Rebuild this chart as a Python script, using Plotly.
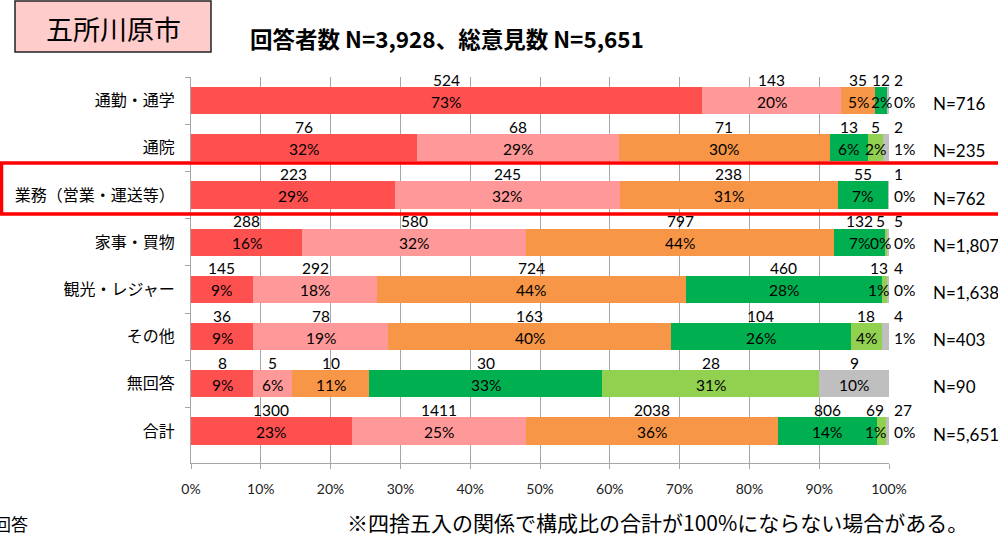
import plotly.graph_objects as go

# ---------------- data ----------------
categories = ["通勤・通学", "通院", "業務（営業・運送等）", "家事・買物",
              "観光・レジャー", "その他", "無回答", "合計"]
series1 = [524, 76, 223, 288, 145, 36, 8, 1300]
series2 = [143, 68, 245, 580, 292, 78, 5, 1411]
series3 = [35, 71, 238, 797, 724, 163, 10, 2038]
series4 = [12, 13, 55, 132, 460, 104, 30, 806]
series5 = [0, 5, 0, 5, 13, 18, 28, 69]
series6 = [2, 2, 1, 5, 4, 4, 9, 27]
n_labels = ["N=716", "N=235", "N=762", "N=1,807", "N=1,638", "N=403", "N=90", "N=5,651"]
x_tick_values = [0, 10, 20, 30, 40, 50, 60, 70, 80, 90, 100]
x_tick_labels = ["0%", "10%", "20%", "30%", "40%", "50%", "60%", "70%", "80%", "90%", "100%"]

series = [series1, series2, series3, series4, series5, series6]
colors = ["#FF5050", "#FF9999", "#F79646", "#00B050", "#92D050", "#BFBFBF"]

# ---------------- layout geometry ----------------
W, H = 998, 540
L, R, T, B = 191, 109, 77, 77
PW, PH = W - L - R, H - T - B


def px(x):
    return (x - L) / PW


def py(y):
    return 1 - (y - T) / PH


totals = [sum(s[i] for s in series) for i in range(len(categories))]

fig = go.Figure()
for k, s in enumerate(series):
    pct = [v / t * 100 for v, t in zip(s, totals)]
    fig.add_trace(go.Bar(
        y=categories, x=pct, orientation="h",
        marker=dict(color=colors[k], line=dict(width=0)),
        hoverinfo="skip", showlegend=False,
    ))

LBL = dict(family="Lato, 'Noto Sans', sans-serif", size=15.5, color="#000000")
annotations = []
last = len(series) - 1
for i, cat in enumerate(categories):
    cum = 0.0
    for k, s in enumerate(series):
        v = s[i]
        p = v / totals[i] * 100
        centre = cum + p / 2
        cum += p
        if v == 0:
            continue
        ptxt = f"{int(p + 0.5)}%"
        if k == last and p < 3:
            kw = dict(x=100, xanchor="left", xshift=3)
        elif k == last - 1 and p < 1.5:
            kw = dict(x=centre, xanchor="center", xshift=-6)
        else:
            kw = dict(x=centre, xanchor="center")
        annotations.append(dict(text=str(v), y=cat, xref="x", yref="y", yshift=21,
                                showarrow=False, font=LBL, **kw))
        annotations.append(dict(text=ptxt, y=cat, xref="x", yref="y", yshift=-1,
                                showarrow=False, font=LBL, **kw))
    annotations.append(dict(text=n_labels[i], x=px(931), xanchor="left", xref="paper",
                            y=cat, yref="y", yshift=-3, showarrow=False,
                            font=dict(family="Lato, 'Noto Sans', sans-serif", size=17, color="#000000")))

CJK = "'Noto Sans CJK JP', sans-serif"
annotations += [
    dict(text="五所川原市", x=px(113), y=py(28), xref="paper", yref="paper",
         xanchor="center", yanchor="middle", showarrow=False,
         font=dict(family=CJK, size=27, color="#000000")),
    dict(text="<b>回答者数 N=3,928、総意見数 N=5,651</b>", x=px(248), y=py(38),
         xref="paper", yref="paper", xanchor="left", yanchor="middle", showarrow=False,
         font=dict(family=CJK, size=22.5, color="#000000")),
    dict(text="※四捨五入の関係で構成比の合計が100%にならない場合がある。", x=px(345), y=py(522),
         xref="paper", yref="paper", xanchor="left", yanchor="middle", showarrow=False,
         font=dict(family=CJK, size=21, color="#000000")),
    dict(text="無回答", x=px(30), y=py(523), xref="paper", yref="paper",
         xanchor="right", yanchor="middle", showarrow=False,
         font=dict(family=CJK, size=17, color="#000000")),
]

shapes = [
    dict(type="rect", xref="paper", yref="paper", x0=px(15), x1=px(211), y0=py(1), y1=py(52),
         fillcolor="#FFCCCC", line=dict(color="#222222", width=1.5), layer="below"),
    dict(type="rect", xref="paper", yref="paper", x0=px(1.5), x1=px(1010), y0=py(163), y1=py(214),
         fillcolor="rgba(0,0,0,0)", line=dict(color="#FF0000", width=3.5), layer="above"),
]

fig.update_layout(
    width=W, height=H,
    margin=dict(l=L, r=R, t=T, b=B, pad=0),
    barmode="stack", bargap=0.42,
    plot_bgcolor="#FFFFFF", paper_bgcolor="#FFFFFF",
    annotations=annotations, shapes=shapes,
    font=dict(family=CJK, color="#000000"),
)
fig.update_xaxes(
    range=[0, 100], tickvals=x_tick_values, ticktext=x_tick_labels,
    showgrid=True, gridcolor="#A6A6A6", gridwidth=1,
    ticks="outside", ticklen=5, tickcolor="#A6A6A6",
    showline=True, linecolor="#A6A6A6", linewidth=1, zeroline=False,
    tickfont=dict(family="Lato, sans-serif", size=14, color="#222222"),
    ticklabelstandoff=8,
)
fig.update_yaxes(
    type="category", categoryorder="array", categoryarray=categories,
    autorange="reversed", tickson="boundaries",
    ticks="outside", ticklen=5, tickcolor="#A6A6A6",
    showline=True, linecolor="#A6A6A6", linewidth=1, showgrid=False,
    tickfont=dict(family=CJK, size=16, color="#000000"),
    ticklabelstandoff=12,
)

fig.write_html(
    "out.html",
    config={"displayModeBar": False},
    post_script="document.body.style.margin='0';document.body.style.overflow='hidden';",
)
